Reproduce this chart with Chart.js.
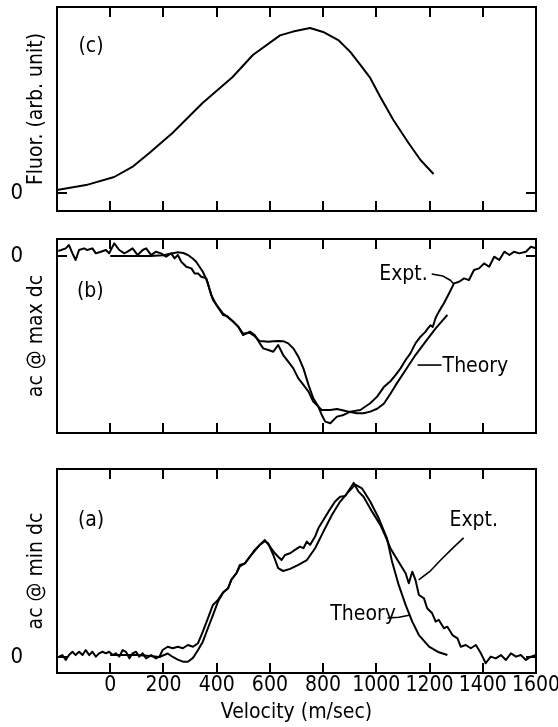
<!DOCTYPE html>
<html>
<head>
<meta charset="utf-8">
<script src="https://cdn.jsdelivr.net/npm/chart.js@4"></script>
<style>
  html, body { margin: 0; padding: 0; background: #fff; }
  #wrap { position: relative; width: 558px; height: 727px; }
  canvas { position: absolute; left: 0; }
</style>
</head>
<body>
<div id="wrap">
  <canvas id="chartC" width="558" height="220" style="top:0"></canvas>
  <canvas id="chartB" width="558" height="230" style="top:220px"></canvas>
  <canvas id="chartA" width="558" height="277" style="top:450px"></canvas>
</div>
<script>
// (c) fluorescence vs velocity
const fluorVel = [-200, -91, 15, 83, 147, 234, 347, 460, 536, 638, 687, 751, 800, 857, 902, 940, 977, 1015, 1064, 1121, 1166, 1215];
const fluorVal = [0.018, 0.048, 0.097, 0.158, 0.242, 0.364, 0.545, 0.703, 0.836, 0.955, 0.978, 1.0, 0.976, 0.927, 0.855, 0.776, 0.697, 0.582, 0.442, 0.303, 0.2, 0.115];

// (b) ac @ max dc
const maxExptVel = [-195, -167, -155, -142, -130, -117, -98, -86, -67, -54, -35, -16, -4, 15, 34, 53, 65, 84, 103, 122, 135, 154, 172, 191, 210, 229, 242, 254, 267, 286, 305, 317, 330, 342, 361, 374, 386, 405, 424, 437, 462, 481, 499, 525, 543, 562, 575, 594, 613, 631, 650, 669, 688, 707, 726, 745, 763, 782, 795, 808, 827, 852, 877, 902, 940, 977, 1003, 1028, 1053, 1072, 1091, 1110, 1128, 1147, 1166, 1185, 1195, 1204, 1212, 1223, 1235, 1254, 1273, 1292, 1311, 1330, 1348, 1367, 1386, 1405, 1424, 1443, 1462, 1481, 1500, 1518, 1537, 1562, 1581, 1600];
const maxExptVal = [0.03, 0.046, 0.066, 0.016, -0.024, 0.036, 0.046, 0.036, 0.046, 0.016, 0.026, 0.036, 0.016, 0.076, 0.036, 0.016, 0.026, 0.046, 0.006, 0.036, 0.046, 0.006, 0.026, 0.016, -0.004, 0.016, -0.014, 0.006, -0.034, -0.064, -0.074, -0.104, -0.104, -0.124, -0.134, -0.204, -0.263, -0.304, -0.345, -0.36, -0.393, -0.423, -0.473, -0.453, -0.473, -0.523, -0.553, -0.563, -0.573, -0.533, -0.593, -0.633, -0.673, -0.733, -0.772, -0.812, -0.872, -0.902, -0.952, -0.992, -1.002, -0.962, -0.952, -0.932, -0.922, -0.882, -0.842, -0.785, -0.75, -0.713, -0.673, -0.623, -0.583, -0.523, -0.483, -0.453, -0.43, -0.415, -0.425, -0.37, -0.333, -0.283, -0.224, -0.164, -0.154, -0.134, -0.144, -0.084, -0.074, -0.044, -0.064, -0.004, -0.024, 0.026, 0.006, 0.026, 0.016, 0.026, 0.056, 0.046];
const maxTheoryVel = [0, 50, 100, 150, 200, 230, 254, 275, 292, 310, 323, 348, 365, 380, 399, 424, 440, 462, 481, 499, 525, 543, 562, 575, 594, 613, 631, 650, 669, 688, 707, 726, 745, 763, 782, 795, 808, 827, 852, 877, 902, 927, 952, 977, 1003, 1028, 1053, 1072, 1110, 1147, 1185, 1223, 1267];
const maxTheoryVal = [0.0, 0.0, 0.0, 0.0, 0.005, 0.015, 0.022, 0.018, 0.006, -0.015, -0.034, -0.094, -0.154, -0.234, -0.293, -0.353, -0.36, -0.393, -0.423, -0.465, -0.46, -0.48, -0.51, -0.51, -0.513, -0.51, -0.509, -0.51, -0.523, -0.553, -0.603, -0.673, -0.772, -0.852, -0.902, -0.922, -0.922, -0.922, -0.916, -0.925, -0.935, -0.942, -0.942, -0.932, -0.915, -0.885, -0.825, -0.775, -0.683, -0.593, -0.513, -0.433, -0.353];

// (a) ac @ min dc
const minExptVel = [-192, -180, -167, -155, -142, -130, -117, -104, -92, -79, -67, -54, -42, -29, -16, -4, 9, 21, 34, 47, 59, 72, 84, 97, 109, 122, 135, 154, 172, 185, 197, 216, 235, 254, 273, 292, 311, 330, 348, 367, 386, 405, 424, 443, 455, 474, 487, 506, 525, 543, 562, 581, 600, 619, 631, 644, 657, 676, 694, 713, 726, 739, 751, 770, 782, 801, 820, 845, 864, 883, 902, 915, 933, 952, 984, 1015, 1034, 1053, 1072, 1091, 1110, 1122, 1135, 1147, 1160, 1179, 1191, 1210, 1223, 1235, 1254, 1267, 1286, 1305, 1317, 1336, 1355, 1374, 1393, 1411, 1430, 1449, 1468, 1487, 1506, 1525, 1543, 1562, 1581, 1600];
const minExptVal = [0.002, 0.011, -0.017, 0.011, 0.03, 0.011, 0.03, 0.011, 0.04, 0.011, 0.03, 0.002, 0.021, 0.03, 0.021, 0.03, 0.011, 0.021, 0.002, 0.04, 0.03, -0.008, 0.021, 0.03, 0.002, 0.021, -0.008, 0.011, -0.008, 0.002, 0.04, 0.059, 0.05, 0.059, 0.05, 0.069, 0.059, 0.079, 0.146, 0.222, 0.299, 0.328, 0.37, 0.395, 0.443, 0.481, 0.529, 0.538, 0.576, 0.615, 0.644, 0.672, 0.634, 0.596, 0.576, 0.557, 0.586, 0.596, 0.615, 0.634, 0.625, 0.663, 0.644, 0.692, 0.739, 0.787, 0.835, 0.893, 0.921, 0.925, 0.969, 1.0, 0.95, 0.921, 0.835, 0.759, 0.695, 0.625, 0.576, 0.529, 0.481, 0.424, 0.49, 0.443, 0.356, 0.337, 0.28, 0.251, 0.203, 0.213, 0.165, 0.174, 0.126, 0.107, 0.059, 0.069, 0.05, 0.069, 0.021, -0.036, 0.002, -0.008, 0.011, -0.017, 0.021, 0.002, 0.011, -0.017, 0.002, 0.011];
const minTheoryVel = [0, 50, 100, 150, 185, 216, 235, 254, 273, 292, 311, 330, 348, 367, 386, 405, 424, 443, 455, 474, 487, 506, 525, 543, 562, 581, 594, 613, 631, 650, 676, 707, 739, 770, 801, 833, 864, 896, 921, 946, 977, 1009, 1040, 1059, 1084, 1110, 1135, 1160, 1198, 1235, 1267];
const minTheoryVal = [0.011, 0.011, 0.011, 0.005, 0.0, 0.02, 0.0, -0.015, -0.027, -0.027, -0.005, 0.04, 0.088, 0.165, 0.241, 0.318, 0.37, 0.395, 0.443, 0.481, 0.52, 0.538, 0.576, 0.61, 0.644, 0.665, 0.653, 0.586, 0.51, 0.494, 0.506, 0.529, 0.557, 0.625, 0.72, 0.816, 0.893, 0.95, 0.99, 0.969, 0.893, 0.797, 0.682, 0.548, 0.414, 0.299, 0.203, 0.126, 0.059, 0.027, 0.011];

const FONT = '"Liberation Sans Narrow", "DejaVu Sans Condensed", "DejaVu Sans", sans-serif';
Chart.defaults.font.family = FONT;
Chart.defaults.font.size = 21;
Chart.defaults.color = '#000';

const pts = (xs, ys) => xs.map((v, i) => ({ x: v, y: ys[i] }));

const line = (data) => ({
  data,
  borderColor: '#000',
  borderWidth: 2,
  pointRadius: 0,
  tension: 0,
  fill: false,
  borderJoinStyle: 'round'
});

// text and leader lines inside the plot, placed in data units
const notesPlugin = {
  id: 'notes',
  afterDatasetsDraw(chart, args, opts) {
    const { ctx, scales: { x, y } } = chart;
    ctx.save();
    ctx.fillStyle = '#000';
    ctx.strokeStyle = '#000';
    ctx.lineWidth = 1.6;
    ctx.font = `21px ${FONT}`;
    ctx.textBaseline = 'middle';
    (opts.labels || []).forEach(l => {
      ctx.textAlign = l.align || 'center';
      ctx.fillText(l.text, x.getPixelForValue(l.at[0]), y.getPixelForValue(l.at[1]));
    });
    (opts.leaders || []).forEach(path => {
      ctx.beginPath();
      path.forEach(([a, b], i) => {
        const px = x.getPixelForValue(a), py = y.getPixelForValue(b);
        i ? ctx.lineTo(px, py) : ctx.moveTo(px, py);
      });
      ctx.stroke();
    });
    ctx.restore();
  }
};

// fixed axis sizes so the three boxes line up exactly
const fixSize = (w, h) => s => {
  if (w !== null) s.width = w;
  if (h !== null) s.height = h;
  s.paddingTop = 0; s.paddingBottom = 0; s.paddingLeft = 0; s.paddingRight = 0;
};

function makePanel(id, { datasets, yMin, yMax, yTitle, showX, padTop, padBottom, notes }) {
  const tickGrid = (len) => ({ drawOnChartArea: false, tickLength: len, color: '#000', lineWidth: 2 });
  const border = { color: '#000', width: 2 };
  return new Chart(document.getElementById(id), {
    type: 'line',
    data: { datasets },
    plugins: [notesPlugin],
    options: {
      responsive: false,
      animation: false,
      layout: { padding: { top: padTop, bottom: padBottom, left: 0, right: 0 } },
      plugins: { legend: { display: false }, tooltip: { enabled: false }, notes },
      scales: {
        x: {
          type: 'linear', position: 'bottom', min: -200, max: 1600,
          afterFit: fixSize(null, showX ? 54 : 0),
          border, grid: tickGrid(-10),
          ticks: {
            display: showX, stepSize: 200, padding: 10, maxRotation: 0, autoSkip: false,
            callback: v => (v < 0 ? '' : v)
          },
          title: { display: showX, text: 'Velocity (m/sec)', padding: { top: 0, bottom: 2 } }
        },
        xTop: {
          type: 'linear', position: 'top', min: -200, max: 1600,
          afterFit: fixSize(null, 0),
          border, grid: tickGrid(-10),
          ticks: { display: false, stepSize: 200 }
        },
        y: {
          type: 'linear', position: 'left', min: yMin, max: yMax,
          afterFit: fixSize(57, null),
          afterBuildTicks: s => { s.ticks = [{ value: 0 }]; },
          border, grid: tickGrid(-10),
          ticks: { padding: 44, font: { size: 22 }, callback: () => '0' },
          title: { display: true, text: yTitle, padding: { top: 24, bottom: 0 } }
        },
        yRight: {
          type: 'linear', position: 'right', min: yMin, max: yMax,
          afterFit: fixSize(22, null),
          afterBuildTicks: s => { s.ticks = [{ value: 0 }]; },
          border, grid: tickGrid(-10),
          ticks: { display: false }
        }
      }
    }
  });
}

makePanel('chartC', {
  datasets: [line(pts(fluorVel, fluorVal))],
  yMin: -0.109, yMax: 1.127,
  yTitle: 'Fluor. (arb. unit)',
  showX: false, padTop: 7, padBottom: 9,
  notes: { labels: [{ text: '(c)', at: [-72, 0.885] }] }
});

makePanel('chartB', {
  datasets: [line(pts(maxExptVel, maxExptVal)), line(pts(maxTheoryVel, maxTheoryVal))],
  yMin: -1.06, yMax: 0.102,
  yTitle: 'ac @ max dc',
  showX: false, padTop: 19, padBottom: 17,
  notes: {
    labels: [
      { text: '(b)', at: [-75, -0.21] },
      { text: 'Expt.', at: [1102, -0.108] },
      { text: 'Theory', at: [1249, -0.659], align: 'left' }
    ],
    leaders: [
      [[1208, -0.108], [1250, -0.12], [1278, -0.145], [1291, -0.168]],
      [[1155, -0.653], [1245, -0.653]]
    ]
  }
});

makePanel('chartA', {
  datasets: [line(pts(minExptVel, minExptVal)), line(pts(minTheoryVel, minTheoryVal))],
  yMin: -0.092, yMax: 1.08,
  yTitle: 'ac @ min dc',
  showX: true, padTop: 19, padBottom: 0,
  notes: {
    labels: [
      { text: '(a)', at: [-72, 0.782] },
      { text: 'Expt.', at: [1366, 0.782] },
      { text: 'Theory', at: [827, 0.241], align: 'left' }
    ],
    leaders: [
      [[1328, 0.684], [1290, 0.63], [1242, 0.557], [1200, 0.49], [1159, 0.443]],
      [[1042, 0.224], [1085, 0.228], [1128, 0.241]]
    ]
  }
});
</script>
</body>
</html>
